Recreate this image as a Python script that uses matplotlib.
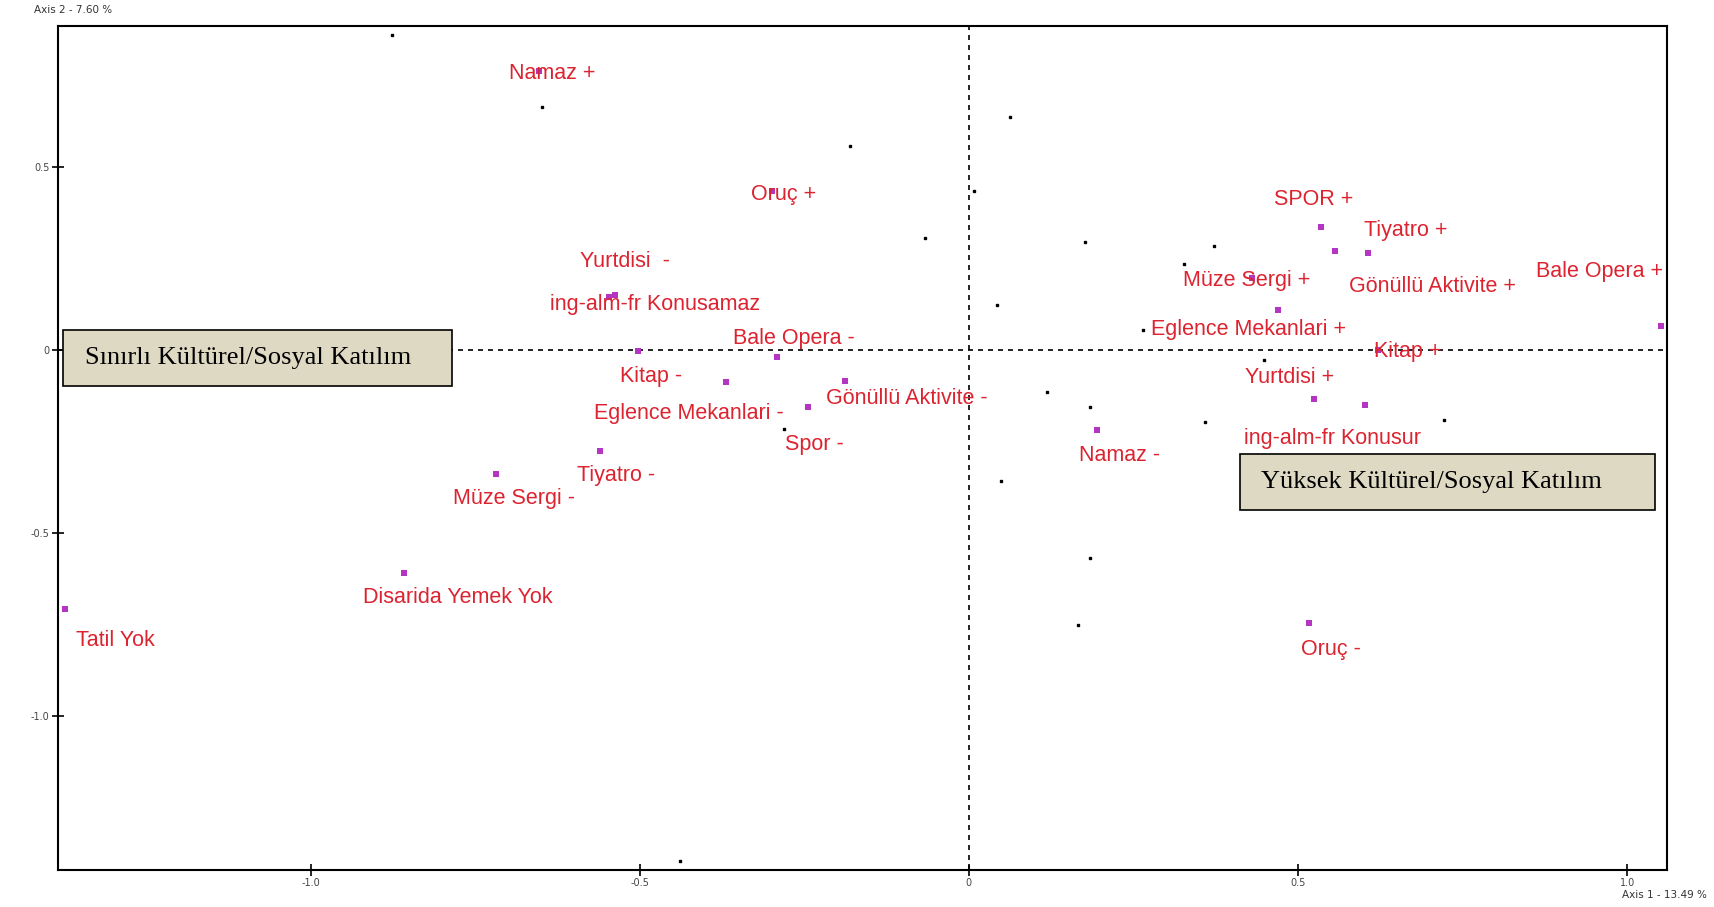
import matplotlib.pyplot as plt
from matplotlib.patches import Rectangle

# active categories (axis 1, axis 2)
labels = [
    'Namaz +', 'Oruç +', 'Yurtdisi  -', 'ing-alm-fr Konusamaz', 'Kitap -',
    'Bale Opera -', 'Eglence Mekanlari -', 'Gönüllü Aktivite -', 'Spor -',
    'Tiyatro -', 'Müze Sergi -', 'Disarida Yemek Yok', 'Tatil Yok',
    'Namaz -', 'Oruç -', 'SPOR +', 'Tiyatro +', 'Gönüllü Aktivite +',
    'Müze Sergi +', 'Eglence Mekanlari +', 'Bale Opera +', 'Kitap +',
    'Yurtdisi +', 'ing-alm-fr Konusur',
]
axis1 = [-0.653, -0.299, -0.547, -0.538, -0.503, -0.291, -0.369, -0.188, -0.244,
         -0.560, -0.719, -0.859, -1.374, 0.194, 0.517, 0.535, 0.606, 0.556,
         0.430, 0.470, 1.051, 0.621, 0.525, 0.601]
axis2 = [0.763, 0.434, 0.144, 0.150, -0.003, -0.018, -0.087, -0.084, -0.156,
         -0.275, -0.338, -0.611, -0.707, -0.219, -0.746, 0.335, 0.266, 0.271,
         0.198, 0.108, 0.066, 0.000, -0.135, -0.150]

# small black points (individuals)
ind_x = [-0.877, -0.648, -0.181, 0.063, -0.066, 0.007, 0.176, 0.042, 0.372, 0.327,
         0.264, 0.118, 0.184, 0.359, 0.721, 0.449, 0.048, 0.184, 0.166, -0.439, -0.281]
ind_y = [0.862, 0.665, 0.557, 0.638, 0.305, 0.434, 0.296, 0.123, 0.284, 0.234,
         0.054, -0.114, -0.156, -0.198, -0.192, -0.027, -0.359, -0.569, -0.751, -1.398, -0.216]

# label offsets in points (left edge, vertical centre)
offsets = [(-22, -2), (-15, -2), (-21, 26), (-47, -7), (-13, -18), (-32, 13),
           (-95, -23), (-14, -13), (-17, -27), (-17, -18), (-31, -18), (-29, -17),
           (8, -23), (-13, -18), (-6, -19), (-34, 20), (-3, 16), (10, -26),
           (-50, -2), (-92, -14), (-90, 39), (-3, -1), (-50, 16), (-87, -24)]

fig = plt.figure(figsize=(17.15, 9.07), dpi=100)
ax = fig.add_axes([0.0338, 0.0408, 0.938, 0.9306])

ax.axhline(0, color='black', linestyle=(0, (3, 3)), linewidth=1.2, zorder=1)
ax.axvline(0, color='black', linestyle=(0, (3, 3)), linewidth=1.2, zorder=1)

ax.plot(ind_x, ind_y, 's', color='black', markersize=1.6, zorder=2)
ax.plot(axis1, axis2, 's', color='#b335c2', markersize=4, markeredgewidth=0, zorder=3)

for lab, x, y, off in zip(labels, axis1, axis2, offsets):
    ax.annotate(lab, (x, y), xytext=off, textcoords='offset points',
                ha='left', va='center', fontsize=15.5, color='#dc2430',
                family='Liberation Sans', zorder=4)

# group boxes
ax.add_patch(Rectangle((0.003, 0.573), 0.242, 0.067, transform=ax.transAxes,
                       facecolor='#ddd9c3', edgecolor='black', linewidth=1.2, zorder=5))
ax.text(0.017, 0.6065, 'Sınırlı Kültürel/Sosyal Katılım', transform=ax.transAxes,
        ha='left', va='center', fontsize=19, family='Liberation Serif', zorder=6)
ax.add_patch(Rectangle((0.735, 0.4265), 0.258, 0.0665, transform=ax.transAxes,
                       facecolor='#ddd9c3', edgecolor='black', linewidth=1.2, zorder=5))
ax.text(0.748, 0.46, 'Yüksek Kültürel/Sosyal Katılım', transform=ax.transAxes,
        ha='left', va='center', fontsize=19, family='Liberation Serif', zorder=6)

ax.set_xlim(-1.384, 1.060)
ax.set_ylim(-1.422, 0.886)
ax.set_xticks([-1.0, -0.5, 0, 0.5, 1.0])
ax.set_xticklabels(['-1.0', '-0.5', '0', '0.5', '1.0'])
ax.set_yticks([0.5, 0, -0.5, -1.0])
ax.set_yticklabels(['0.5', '0', '-0.5', '-1.0'])
ax.tick_params(direction='inout', length=8, width=1.2, labelsize=7, labelcolor='#444444', pad=2)
for s in ax.spines.values():
    s.set_linewidth(1.5)

fig.text(0.02, 0.989, 'Axis 2 - 7.60 %', fontsize=7.5, color='#333333', ha='left', va='center')
fig.text(0.995, 0.013, 'Axis 1 - 13.49 %', fontsize=7.5, color='#333333', ha='right', va='center')

fig.savefig('out.png', dpi=100)
